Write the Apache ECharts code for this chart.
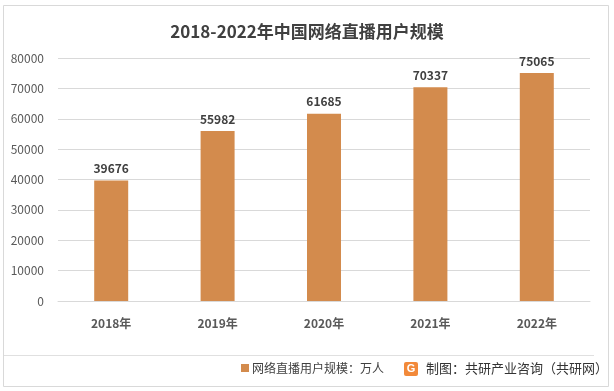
<!DOCTYPE html>
<html><head><meta charset="utf-8">
<script src="https://cdn.jsdelivr.net/npm/echarts@6/dist/echarts.min.js"></script>
<style>html,body{margin:0;padding:0;background:#fff}#c{width:614px;height:391px}</style>
</head><body><div id="c"></div>
<script>
const categories = ['2018年','2019年','2020年','2021年','2022年'];
const values = [39676, 55982, 61685, 70337, 75065];
const yTicks = [0,10000,20000,30000,40000,50000,60000,70000,80000];
const seriesName = '网络直播用户规模：万人';
const titleText = '2018-2022年中国网络直播用户规模';
const creditText = '制图：共研产业咨询（共研网）';

const chart = echarts.init(document.getElementById('c'), null, {renderer:'canvas'});
const font = '"Microsoft YaHei","Noto Sans CJK SC",sans-serif';
chart.setOption({
  animation:false,
  backgroundColor:'#fff',
  title:{text:titleText,left:'center',top:18,textStyle:{fontSize:17,fontWeight:'bold',color:'#404040',fontFamily:font}},
  grid:{left:58,right:24,top:58,bottom:90,containLabel:false},
  legend:{show:true,left:236,top:357,itemWidth:8,itemHeight:8,icon:'rect',itemGap:4,
    textStyle:{fontSize:12,color:'#404040',fontFamily:font,padding:[0,0,0,-2]},data:[seriesName]},
  xAxis:{type:'category',data:categories,
    axisLine:{lineStyle:{color:'#d9d9d9'}},axisTick:{show:false},
    axisLabel:{fontSize:12,color:'#595959',fontWeight:'bold',margin:16,fontFamily:font}},
  yAxis:{type:'value',min:yTicks[0],max:yTicks[yTicks.length-1],interval:10000,
    axisLine:{show:false},axisTick:{show:false},
    splitLine:{lineStyle:{color:'#d9d9d9'}},
    axisLabel:{fontSize:12,color:'#595959',margin:14,fontFamily:font,formatter:v=>String(v)}},
  series:[{name:seriesName,type:'bar',data:values,barWidth:34,
    itemStyle:{color:'#D38B4D'},
    label:{show:true,position:'top',distance:6,fontSize:12,fontWeight:'bold',color:'#404040',fontFamily:font}}],
  graphic:[
    {type:'rect',shape:{x:3.5,y:5.5,width:605,height:381},style:{fill:'none',stroke:'#d9d9d9',lineWidth:1},silent:true},
    {type:'line',shape:{x1:4,y1:355.5,x2:594,y2:355.5},style:{stroke:'#e0e0e0',lineWidth:1}},
    {type:'group',left:404,top:362,children:[
      {type:'rect',shape:{x:0,y:0,width:14,height:14,r:2},style:{fill:'#F2893A'}},
      {type:'text',style:{text:'G',x:7,y:7,align:'center',verticalAlign:'middle',fill:'#fff',font:'bold 11px sans-serif'}}
    ]},
    {type:'text',left:426,top:362,style:{text:creditText,fill:'#333',font:'13px '+font}}
  ]
});
</script></body></html>
